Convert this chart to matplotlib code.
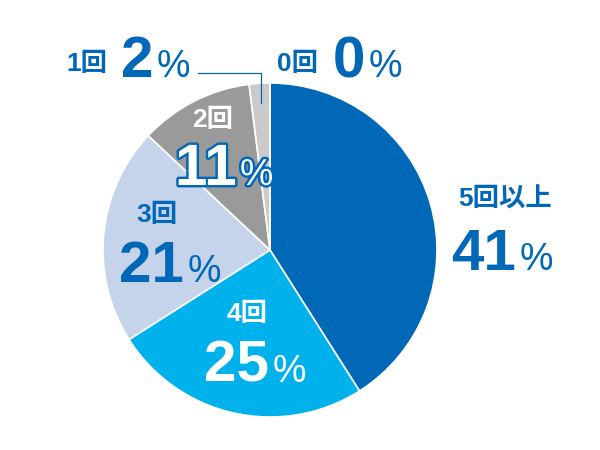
import matplotlib.pyplot as plt
import matplotlib.patheffects as pe
import numpy as np

plt.rcParams['font.family'] = ['Liberation Sans', 'Noto Sans CJK JP', 'DejaVu Sans']

# dati
categorie = ['5回以上', '4回', '3回', '2回', '1回', '0回']
valori = [41, 25, 21, 11, 2, 0]
colori = ['#0068b7', '#00b1eb', '#c5d3eb', '#9a9a9a', '#cbcbcb', '#e0e0e0']

BLU = '#0068b7'
cx, cy, r = 270, 250, 167

fig = plt.figure(figsize=(6, 4.5), dpi=100)
ax = fig.add_axes([0, 0, 1, 1])

wedges, _ = ax.pie(valori, colors=colori, startangle=-90, counterclock=True,
                   center=(cx, cy), radius=r, frame=True,
                   wedgeprops=dict(edgecolor='white', linewidth=1.2))
ax.set_xlim(0, 600)
ax.set_ylim(450, 0)
ax.set_aspect('equal')
ax.axis('off')

# layout etichette: nome (x, y centro), numero (x sinistra, y baseline), colore, contorno
etichette = {
    '5回以上': ((505, 199), (451, 270), BLU, False),
    '4回':    ((247, 314), (204, 382), 'white', False),
    '3回':    ((157, 215), (119, 282), BLU, False),
    '2回':    ((213, 120), (175, 185), 'white', True),
    '1回':    ((87, 64), (121, 77), BLU, False),
    '0回':    ((297, 64), (333, 77), BLU, False),
}

for cat, val in zip(categorie, valori):
    (nx, ny), (vx, vy), col, cont = etichette[cat]
    ax.text(nx, ny, cat, fontsize=19, fontweight='bold', color=col,
            ha='center', va='center')
    eff = [pe.withStroke(linewidth=3.5, foreground=BLU)] if cont else None
    t = ax.text(vx, vy, str(val), fontsize=42, fontweight='bold', color=col,
                ha='left', va='baseline', path_effects=eff)
    ax.annotate('%', xy=(1, vy), xycoords=(t, 'data'), xytext=(2.5, 0),
                textcoords='offset points', fontsize=27, color=col,
                ha='left', va='baseline', path_effects=eff)

# linea guida per la fetta 1回
w = wedges[4]
mid = np.deg2rad((w.theta1 + w.theta2) / 2)
px = cx + 0.88 * r * np.cos(mid)
py = cy + 0.88 * r * np.sin(mid)
ax.plot([px, px, 198], [py, 73, 73], color=BLU, linewidth=0.9)

fig.savefig('out.png', dpi=100)
